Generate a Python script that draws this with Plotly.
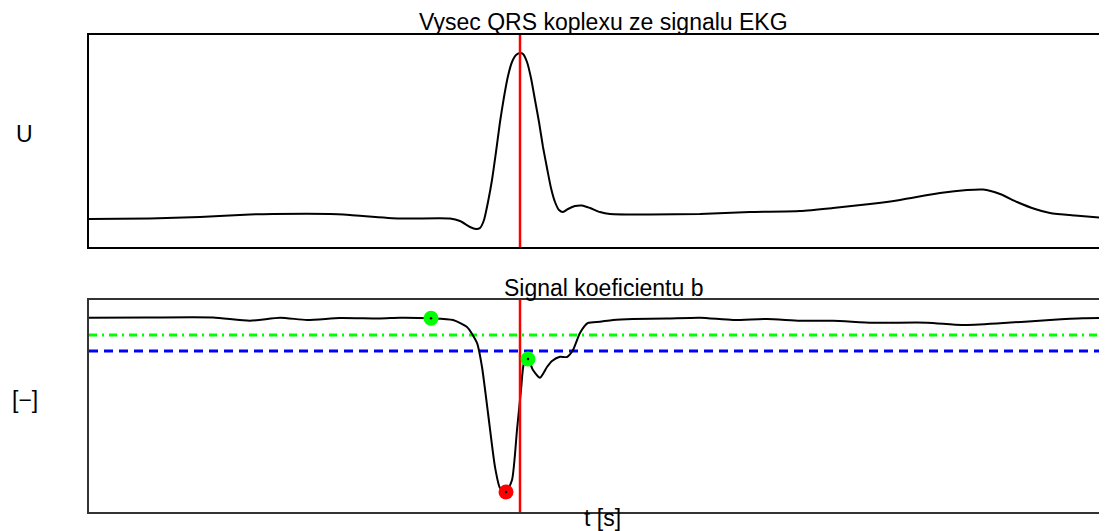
import plotly.graph_objects as go

# ---- data (time in s, amplitudes in arbitrary units) ----
t_ekg = [0.000, 0.061, 0.111, 0.161, 0.184, 0.241, 0.261, 0.311, 0.361, 0.371,
         0.381, 0.387, 0.391, 0.395, 0.399, 0.403, 0.407, 0.411, 0.415, 0.419,
         0.423, 0.427, 0.431, 0.434, 0.438, 0.442, 0.446, 0.450, 0.454, 0.458,
         0.462, 0.466, 0.470, 0.474, 0.479, 0.486, 0.493, 0.501, 0.511, 0.521,
         0.561, 0.611, 0.661, 0.711, 0.744, 0.781, 0.811, 0.851, 0.878, 0.894,
         0.911, 0.928, 0.946, 0.961, 0.986, 1.018]
u_ekg = [0.28, 0.285, 0.30, 0.325, 0.33, 0.33, 0.32, 0.285, 0.285, 0.26,
         0.20, 0.18, 0.19, 0.27, 0.45, 0.67, 0.95, 1.25, 1.50, 1.71,
         1.85, 1.92, 1.94, 1.93, 1.85, 1.69, 1.47, 1.25, 1.00, 0.79,
         0.59, 0.45, 0.37, 0.35, 0.38, 0.41, 0.415, 0.39, 0.35, 0.33,
         0.325, 0.33, 0.35, 0.36, 0.39, 0.43, 0.47, 0.54, 0.57, 0.575,
         0.53, 0.45, 0.38, 0.34, 0.315, 0.29]

t_b = [0.000, 0.058, 0.124, 0.161, 0.191, 0.218, 0.251, 0.291, 0.311, 0.342,
       0.364, 0.378, 0.388, 0.393, 0.399, 0.406, 0.411, 0.417, 0.423, 0.428,
       0.432, 0.435, 0.439, 0.444, 0.451, 0.458, 0.463, 0.471, 0.478, 0.484,
       0.491, 0.499, 0.511, 0.524, 0.544, 0.578, 0.611, 0.644, 0.678, 0.711,
       0.744, 0.784, 0.838, 0.873, 0.911, 0.961, 0.994, 1.018]
b_vals = [1.943, 1.945, 1.945, 1.913, 1.943, 1.92, 1.94, 1.935, 1.943, 1.937,
          1.92, 1.85, 1.69, 1.45, 0.99, 0.45, 0.24, 0.20, 0.32, 0.82,
          1.22, 1.49, 1.53, 1.42, 1.343, 1.45, 1.51, 1.553, 1.55, 1.62,
          1.79, 1.89, 1.903, 1.92, 1.93, 1.935, 1.943, 1.92, 1.93, 1.913,
          1.913, 1.893, 1.893, 1.87, 1.887, 1.92, 1.937, 1.94]

t_qrs = 0.431                       # detected R position (red line)
green_pts_t = [0.342, 0.439]
green_pts_b = [1.937, 1.53]
red_pt_t = [0.417]
red_pt_b = [0.20]
thr_green = 1.77
thr_blue = 1.61

x_range = [0, 1.018]
y1_range = [0, 2.12]
y2_range = [0, 2.12]

titles = ["Vysec QRS koplexu ze signalu EKG", "Signal koeficientu b"]
ylabels = ["U", "[\u2212]"]
xlabel = "t [s]"

FONT = "Liberation Sans, Arial, Helvetica, sans-serif"

fig = go.Figure()

# top: EKG
fig.add_trace(go.Scatter(x=t_ekg, y=u_ekg, mode="lines", line=dict(color="black", width=2, shape="spline", smoothing=0.6),
                         xaxis="x", yaxis="y", hoverinfo="skip"))
fig.add_trace(go.Scatter(x=[t_qrs, t_qrs], y=y1_range, mode="lines", line=dict(color="#ff0000", width=2.5),
                         xaxis="x", yaxis="y", hoverinfo="skip"))

# bottom: coefficient b
fig.add_trace(go.Scatter(x=x_range, y=[thr_green, thr_green], mode="lines",
                         line=dict(color="#00ff00", width=3, dash="8px,5px,2px,5px"), xaxis="x2", yaxis="y2"))
fig.add_trace(go.Scatter(x=x_range, y=[thr_blue, thr_blue], mode="lines",
                         line=dict(color="#0000ff", width=3, dash="9px,6px"), xaxis="x2", yaxis="y2"))
fig.add_trace(go.Scatter(x=t_b, y=b_vals, mode="lines", line=dict(color="black", width=2, shape="spline", smoothing=0.6),
                         xaxis="x2", yaxis="y2"))
fig.add_trace(go.Scatter(x=[t_qrs, t_qrs], y=y2_range, mode="lines", line=dict(color="#ff0000", width=2.5),
                         xaxis="x2", yaxis="y2"))
fig.add_trace(go.Scatter(x=green_pts_t, y=green_pts_b, mode="markers",
                         marker=dict(color="#00ff00", size=15, line=dict(width=0)), xaxis="x2", yaxis="y2"))
fig.add_trace(go.Scatter(x=red_pt_t, y=red_pt_b, mode="markers",
                         marker=dict(color="#ff0000", size=15, line=dict(width=0)), xaxis="x2", yaxis="y2"))
fig.add_trace(go.Scatter(x=green_pts_t + red_pt_t, y=green_pts_b + red_pt_b, mode="markers",
                         marker=dict(color="black", size=2.5, line=dict(width=0)), xaxis="x2", yaxis="y2"))

ax_common = dict(showgrid=False, zeroline=False, showticklabels=False, ticks="")
fig.update_layout(
    width=1099, height=523,
    margin=dict(l=81, r=0, t=0, b=0),
    paper_bgcolor="white", plot_bgcolor="white",
    showlegend=False,
    font=dict(family=FONT, color="black"),
    xaxis=dict(domain=[0, 1], range=x_range, anchor="y", showline=True, mirror=True,
               linecolor="black", linewidth=1.5, **ax_common),
    yaxis=dict(domain=[0.5430, 0.9484], range=y1_range, anchor="x", showline=True, mirror=False,
               linecolor="black", linewidth=1.5, **ax_common),
    xaxis2=dict(domain=[0, 1], range=x_range, anchor="y2", showline=True, mirror=True,
                linecolor="#333333", linewidth=2, **ax_common),
    yaxis2=dict(domain=[0.0363, 0.4417], range=y2_range, anchor="x2", showline=True, mirror=False,
                linecolor="#333333", linewidth=2, **ax_common),
)

ann_font = dict(family=FONT, size=23, color="black")
fig.add_annotation(text=titles[0], xref="paper", yref="paper", x=0.505, y=0.9732,
                   showarrow=False, font=ann_font, xanchor="center", yanchor="middle")
fig.add_annotation(text=titles[1], xref="paper", yref="paper", x=0.505, y=0.4646,
                   showarrow=False, font=ann_font, xanchor="center", yanchor="middle")
fig.add_annotation(text=xlabel, xref="paper", yref="paper", x=0.504, y=0.0249,
                   showarrow=False, font=ann_font, xanchor="center", yanchor="middle")
fig.add_annotation(text=ylabels[0], xref="paper", yref="paper", x=-0.0629, y=0.7591,
                   showarrow=False, font=ann_font, xanchor="center", yanchor="middle")
fig.add_annotation(text=ylabels[1], xref="paper", yref="paper", x=-0.0629, y=0.2505,
                   showarrow=False, font=ann_font, xanchor="center", yanchor="middle")

fig.write_html("out.html")
